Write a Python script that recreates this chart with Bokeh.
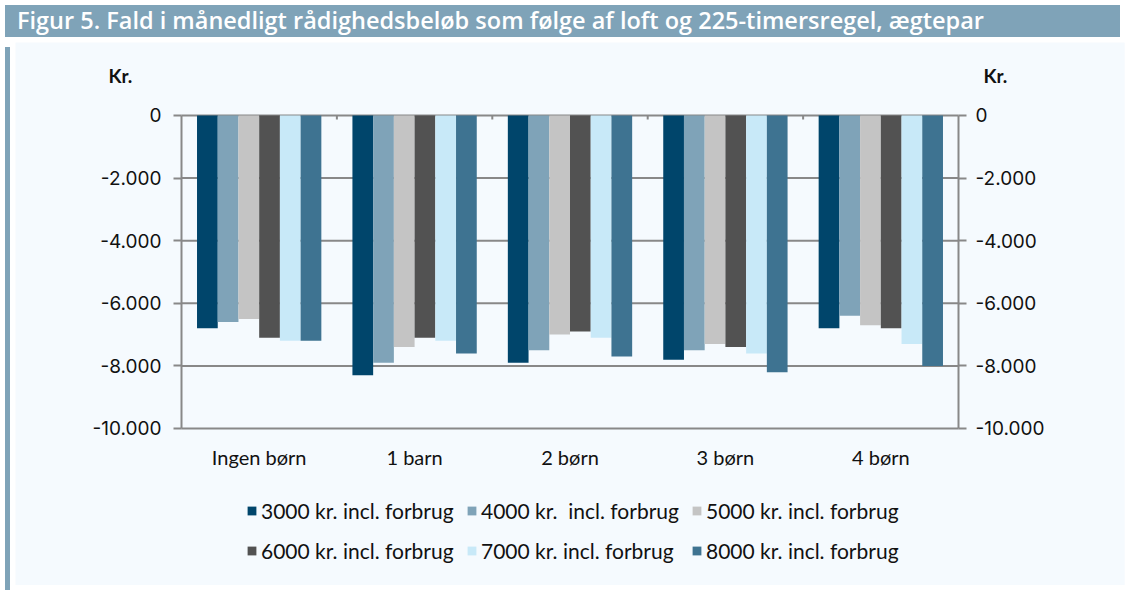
from bokeh.plotting import figure
from bokeh.models import (ColumnDataSource, FactorRange, Range1d, LinearAxis, Label,
                          Legend, LegendItem, Div, FixedTicker)
from bokeh.layouts import column, row
from bokeh.transform import dodge
from bokeh.embed import file_html
from bokeh.resources import INLINE

categories = ["Ingen børn", "1 barn", "2 børn", "3 børn", "4 børn"]
series_names = ["3000 kr. incl. forbrug", "4000 kr.  incl. forbrug", "5000 kr. incl. forbrug",
                "6000 kr. incl. forbrug", "7000 kr. incl. forbrug", "8000 kr. incl. forbrug"]
v3000 = [-6800, -8300, -7900, -7800, -6800]
v4000 = [-6600, -7900, -7500, -7500, -6400]
v5000 = [-6500, -7400, -7000, -7300, -6700]
v6000 = [-7100, -7100, -6900, -7400, -6800]
v7000 = [-7200, -7200, -7100, -7600, -7300]
v8000 = [-7200, -7600, -7700, -8200, -8000]
y_ticks = [0, -2000, -4000, -6000, -8000, -10000]
y_tick_labels = ["0", "-2.000", "-4.000", "-6.000", "-8.000", "-10.000"]
title_text = "Figur 5. Fald i månedligt rådighedsbeløb som følge af loft og 225-timersregel, ægtepar"
unit_label = "Kr."

colors = ["#00456B", "#7FA3B8", "#C4C4C4", "#525252", "#C8E9F8", "#3E7391"]
BG = "#F5FAFE"
FRAME_C = "#7FA3B8"
GRID_C = "#888888"
TICK_FONT = "Inter"
TEXT_FONT = "Lato"

y_min, y_max = min(y_ticks), max(y_ticks)
ncat = len(categories)

source = ColumnDataSource(dict(cat=categories, v3000=v3000, v4000=v4000, v5000=v5000,
                               v6000=v6000, v7000=v7000, v8000=v8000))
cols = ["v3000", "v4000", "v5000", "v6000", "v7000", "v8000"]

# frame covers the whole canvas; the data area sits inside it via padding
p = figure(x_range=FactorRange(*categories, range_padding=1.068, range_padding_units="absolute"),
           y_range=Range1d(-15016, 2332),
           width=1110, height=543, output_backend="svg", toolbar_location=None,
           min_border=0, min_border_right=1,
           background_fill_color=BG, border_fill_color=BG, outline_line_color=None)

# horizontal grid lines (behind bars), spanning the category area only
grid_src = ColumnDataSource(dict(y=y_ticks, x0=[0] * len(y_ticks), x1=[ncat] * len(y_ticks)))
p.segment(x0="x0", x1="x1", y0="y", y1="y", source=grid_src, line_color=GRID_C,
          line_width=2, level="underlay")

group_w = 0.8
bw = group_w / len(cols)
items = []
for i, (c, col, name) in enumerate(zip(cols, colors, series_names)):
    off = (i - (len(cols) - 1) / 2) * bw
    r = p.vbar(x=dodge("cat", off, range=p.x_range), top=c, bottom=0, width=bw,
               source=source, fill_color=col, line_color=None)
    items.append(LegendItem(label=name, renderers=[r]))

# small category-boundary ticks under the zero line
bnd = list(range(1, ncat))
tick_src = ColumnDataSource(dict(x=bnd, y0=[y_max] * len(bnd), y1=[y_max - 130] * len(bnd)))
p.segment(x0="x", x1="x", y0="y0", y1="y1", source=tick_src, line_color=GRID_C, line_width=2)

# y axes fixed at the edges of the category area
ticker = FixedTicker(ticks=y_ticks)
overrides = {t: l for t, l in zip(y_ticks, y_tick_labels)}
yax = p.yaxis[0]
yax.ticker = ticker
yax.major_label_overrides = overrides
yax.fixed_location = 0
raxis = LinearAxis(ticker=ticker, major_label_overrides=overrides, fixed_location=ncat)
p.add_layout(raxis, "right")
for ax in (yax, raxis):
    ax.bounds = (y_min, y_max)
    ax.axis_line_color = GRID_C
    ax.axis_line_width = 2
    ax.major_tick_line_color = GRID_C
    ax.major_tick_line_width = 2
    ax.major_tick_out = 8
    ax.major_tick_in = 0
    ax.minor_tick_line_color = None
    ax.major_label_text_font = TICK_FONT
    ax.major_label_text_font_size = "19px"
    ax.major_label_text_color = "#111111"
yax.major_label_standoff = 12
raxis.major_label_standoff = 9

xax = p.xaxis[0]
xax.fixed_location = y_min
xax.axis_line_color = None
xax.major_tick_line_color = None
xax.major_tick_out = 0
xax.major_tick_in = 0
xax.minor_tick_line_color = None
xax.major_label_text_font = TEXT_FONT
xax.major_label_text_font_size = "20px"
xax.major_label_text_color = "#111111"
xax.major_label_standoff = 17

p.xgrid.grid_line_color = None
p.ygrid.grid_line_color = None

for xs in (-0.47, 5.16):
    p.add_layout(Label(x=xs, y=1278, text=unit_label,
                       text_font=TEXT_FONT, text_font_style="bold", text_font_size="19px",
                       text_baseline="middle", text_color="#111111"))

legend = Legend(items=items, orientation="horizontal", ncols=3, location=(231, 21),
                label_text_font=TEXT_FONT, label_text_font_size="21px",
                label_text_color="#111111", glyph_width=11, glyph_height=11,
                label_standoff=4, label_height=28, label_width=193, spacing=12,
                padding=0, margin=0,
                background_fill_alpha=0, border_line_color=None)
p.add_layout(legend, "center")

title = Div(text=title_text, width=1115, height=32,
            styles={"background-color": FRAME_C, "color": "white", "font-family": "Open Sans",
                    "font-weight": "600", "font-size": "23.5px", "padding-left": "12px",
                    "line-height": "30px", "box-sizing": "border-box", "white-space": "nowrap"})
stripe = Div(text="", width=5, height=543, styles={"background-color": FRAME_C})
layout = column(title, row(stripe, p, spacing=0), spacing=0)

open("out.html", "w").write(file_html(layout, INLINE))
